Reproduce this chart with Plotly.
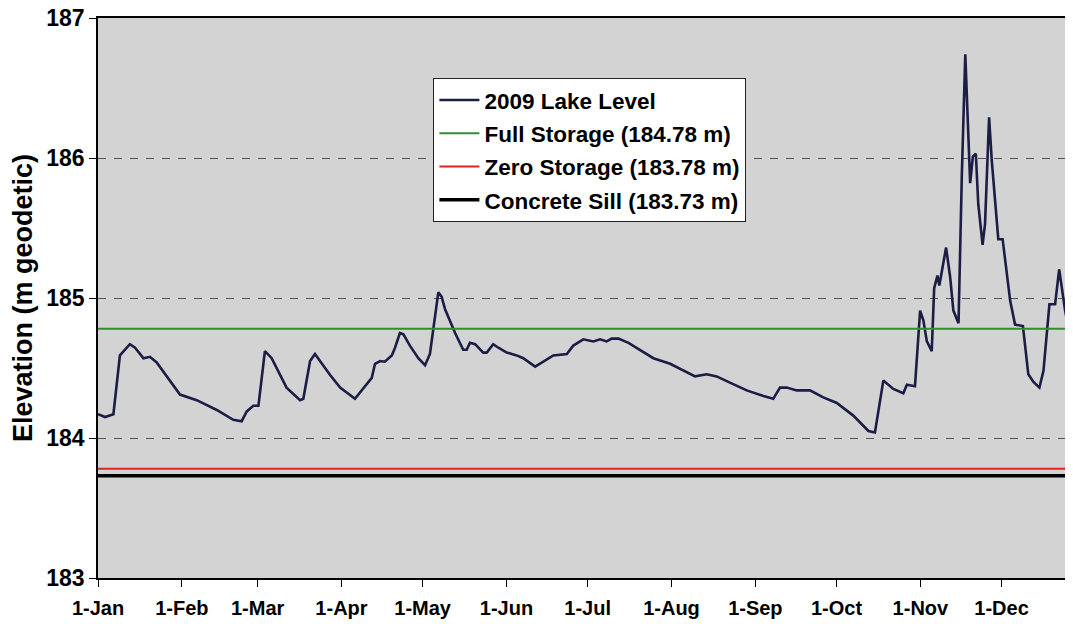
import pandas as pd
import plotly.graph_objects as go

# ---- data ----
day_of_year = [0, 2.6, 5.7, 8.1, 11.8, 13.7, 16.8, 19.2, 21.7, 26.6, 30.3, 36.5, 43.9, 50, 53.1,
               55, 57.4, 59.3, 61.7, 64.2, 69.7, 74.7, 75.9, 78.4, 80.2, 85.8, 89.5, 95, 98,
               101.2, 102.4, 104.3, 106, 108.6, 109.8, 111.6, 112.9, 115.3, 118.4, 120.9, 122.7,
               124, 125.8, 127, 128.3, 132, 135, 136.3, 137.5, 139.4, 142.4, 143.7, 146.1, 148,
               151.1, 154.8, 157.2, 161.6, 163.4, 168.3, 173.3, 175.7, 179.4, 183.1, 185.6, 188,
               189.9, 192.4, 196.1, 199.1, 205.3, 211.5, 216.4, 220.7, 225, 228.7, 233.6, 239.8,
               246, 249.6, 252.1, 254.6, 258.3, 263.2, 268.1, 273.1, 279.2, 284.8, 287.2, 288.5,
               290.3, 294, 297.7, 299, 302, 303.9, 305.1, 306.4, 308.2, 309.1, 310.3, 311, 313.5,
               315, 316.2, 318.1, 319.3, 320.6, 321.5, 322.4, 323.4, 324.5, 325.4, 327, 327.9,
               329.4, 330.4, 332.8, 334.4, 337.2, 339, 341.9, 343.9, 345.8, 348, 349.5, 351.7,
               353.8, 355.3, 357.5, 360.4, 361.5]
lake_level = [184.17, 184.15, 184.17, 184.59, 184.67, 184.645, 184.57, 184.58, 184.54, 184.41,
              184.31, 184.27, 184.20, 184.13, 184.12, 184.19, 184.23, 184.23, 184.62, 184.57,
              184.36, 184.27, 184.28, 184.55, 184.60, 184.45, 184.36, 184.28, 184.35, 184.43,
              184.53, 184.55, 184.545, 184.59, 184.645, 184.75, 184.74, 184.66, 184.57, 184.52,
              184.60, 184.79, 185.04, 185.01, 184.92, 184.75, 184.63, 184.63, 184.68, 184.67,
              184.61, 184.61, 184.67, 184.645, 184.61, 184.59, 184.57, 184.51, 184.53, 184.59,
              184.60, 184.66, 184.705, 184.69, 184.705, 184.69, 184.71, 184.71, 184.68, 184.645,
              184.57, 184.53, 184.48, 184.44, 184.455, 184.44, 184.395, 184.34, 184.30, 184.28,
              184.36, 184.36, 184.34, 184.34, 184.29, 184.25, 184.16, 184.05, 184.04, 184.19,
              184.41, 184.35, 184.32, 184.38, 184.37, 184.91, 184.84, 184.69, 184.62, 185.07,
              185.16, 185.09, 185.36, 185.15, 184.91, 184.82, 185.86, 186.74, 186.22, 185.82,
              186.01, 186.03, 185.67, 185.38, 185.53, 186.29, 185.98, 185.42, 185.42, 184.98,
              184.81, 184.80, 184.455, 184.40, 184.36, 184.48, 184.955, 184.955, 185.205, 184.91,
              184.62, 184.55]

ref_names = ["Full Storage (184.78 m)", "Zero Storage (183.78 m)", "Concrete Sill (183.73 m)"]
ref_levels = [184.78, 183.78, 183.73]
ref_colors = ["#2f8f2f", "#e0241c", "#000000"]
ref_widths = [2, 2, 3.5]

year_start = "2009-01-01"
year_end = "2009-12-31"
view_end = "2009-12-27 10:00"

dates = pd.Timestamp(year_start) + pd.to_timedelta(day_of_year, unit="D")

FONT = "Arial, Liberation Sans, sans-serif"

fig = go.Figure()
fig.add_trace(go.Scatter(x=dates, y=lake_level, mode="lines", name="2009 Lake Level",
                         legendgroup="a",
                         line=dict(color="#1b1d45", width=2.6)))
for i, (nm, lv, c, w) in enumerate(zip(ref_names, ref_levels, ref_colors, ref_widths)):
    fig.add_trace(go.Scatter(x=[year_start, year_end], y=[lv, lv], mode="lines", name=nm,
                             legendgroup="g%d" % i,
                             line=dict(color=c, width=w)))

# the page body adds an 8 px offset, so the figure is sized to end at the window edge
fig.update_layout(
    width=1065, height=616,
    margin=dict(l=90, r=0, t=10, b=46),
    paper_bgcolor="white",
    plot_bgcolor="#d3d3d3",
    font=dict(family=FONT, color="black"),
    showlegend=True,
    legend=dict(x=0.344, y=0.893, xanchor="left", yanchor="top",
                bgcolor="white", bordercolor="#222", borderwidth=1,
                font=dict(size=22.5, family=FONT, weight="bold", color="black"),
                tracegroupgap=1, itemwidth=40),
    xaxis=dict(type="date", range=[year_start, view_end], automargin=False,
               dtick="M1", tick0=year_start, tickformat="%-d-%b",
               showgrid=False, showline=True, linecolor="black", linewidth=1.5,
               mirror=True, ticks="outside", ticklen=7, tickcolor="black",
               ticklabelstandoff=4, ticklabeloverflow="allow",
               tickfont=dict(size=20, family=FONT, weight="bold")),
    yaxis=dict(range=[183, 187], dtick=1, tick0=183, automargin=False,
               showgrid=True, gridcolor="#555555", griddash="8px,8px", gridwidth=1,
               showline=True, linecolor="black", linewidth=1.5,
               ticks="outside", ticklen=7, tickcolor="black",
               ticklabeloverflow="allow",
               tickfont=dict(size=23, family=FONT, weight="bold"),
               zeroline=False,
               title=dict(text="Elevation (m geodetic)", standoff=10,
                          font=dict(size=27, family=FONT, weight="bold"))),
)

fig.write_html("out.html")
